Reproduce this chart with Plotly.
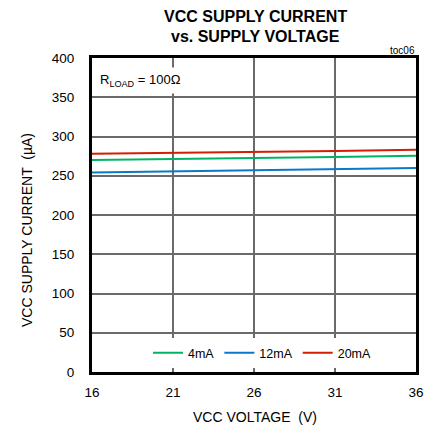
import plotly.graph_objects as go

vcc_voltage = [16, 21, 26, 31, 36]
current_4mA = [270, 271, 272.5, 274, 275.5]
current_12mA = [254, 255.5, 257, 258.5, 260]
current_20mA = [278, 279, 280.5, 281.5, 283]
x_ticks = [16, 21, 26, 31, 36]
y_ticks = [0, 50, 100, 150, 200, 250, 300, 350, 400]

FONT = "Liberation Sans, Arial, sans-serif"

# plot area in pixels: x 92..416, y 58..372
L, R, T, B = 92, 19, 58, 61
W, H = 435, 433
PW, PH = W - L - R, H - T - B


def px(xp):
    return (xp - L) / PW


def py(yp):
    return (H - B - yp) / PH


fig = go.Figure()
fig.add_trace(go.Scatter(x=vcc_voltage, y=current_4mA, mode="lines", name="4mA",
                         line=dict(color="#00b464", width=2)))
fig.add_trace(go.Scatter(x=vcc_voltage, y=current_12mA, mode="lines", name="12mA",
                         line=dict(color="#0a78c8", width=2)))
fig.add_trace(go.Scatter(x=vcc_voltage, y=current_20mA, mode="lines", name="20mA",
                         line=dict(color="#d21e05", width=2)))

fig.update_layout(
    width=W, height=H,
    margin=dict(l=L, r=R, t=T, b=B),
    paper_bgcolor="white", plot_bgcolor="white",
    font=dict(family=FONT, size=13, color="black"),
    showlegend=True,
    legend=dict(orientation="h", x=px(262), xanchor="center", y=0.012, yanchor="bottom",
                bgcolor="white", font=dict(size=12.5), itemwidth=30,
                itemclick=False),
    xaxis=dict(range=[16, 36], tickvals=x_ticks, ticktext=[str(v) for v in x_ticks],
               showgrid=True, gridcolor="#6a6a6a", gridwidth=1.5,
               showline=True, linecolor="black", linewidth=3, mirror=True,
               ticks="outside", ticklen=6, tickcolor="rgba(0,0,0,0)", zeroline=False,
               tickfont=dict(size=13.5)),
    yaxis=dict(range=[0, 400], tickvals=y_ticks,
               showgrid=True, gridcolor="#6a6a6a", gridwidth=1.5,
               showline=True, linecolor="black", linewidth=3, mirror=True,
               ticks="outside", ticklen=12, tickcolor="rgba(0,0,0,0)", zeroline=False,
               tickfont=dict(size=13.5)),
    annotations=[
        dict(text="<b>VCC SUPPLY CURRENT</b>", xref="paper", yref="paper",
             x=px(255), y=py(16), xanchor="center", yanchor="middle", showarrow=False,
             font=dict(size=16)),
        dict(text="<b>vs. SUPPLY VOLTAGE</b>", xref="paper", yref="paper",
             x=px(255), y=py(37), xanchor="center", yanchor="middle", showarrow=False,
             font=dict(size=16)),
        dict(text="VCC VOLTAGE  (V)", xref="paper", yref="paper",
             x=px(255), y=py(417), xanchor="center", yanchor="middle", showarrow=False,
             font=dict(size=14)),
        dict(text="VCC SUPPLY CURRENT  (µA)", xref="paper", yref="paper",
             x=px(27), y=py(230), xanchor="center", yanchor="middle", showarrow=False,
             textangle=-90, font=dict(size=14)),
        dict(text="R<sub>LOAD</sub> = 100Ω", xref="paper", yref="paper",
             x=px(95), y=py(80), xanchor="left", yanchor="middle", showarrow=False,
             bgcolor="white", borderpad=4, font=dict(size=13)),
        dict(text="toc06", xref="paper", yref="paper", x=px(417), y=py(51),
             xanchor="right", yanchor="middle", showarrow=False,
             font=dict(size=10)),
    ],
)

fig.write_html("out.html", post_script="document.body.style.margin='0';",
               config={"displayModeBar": False})
